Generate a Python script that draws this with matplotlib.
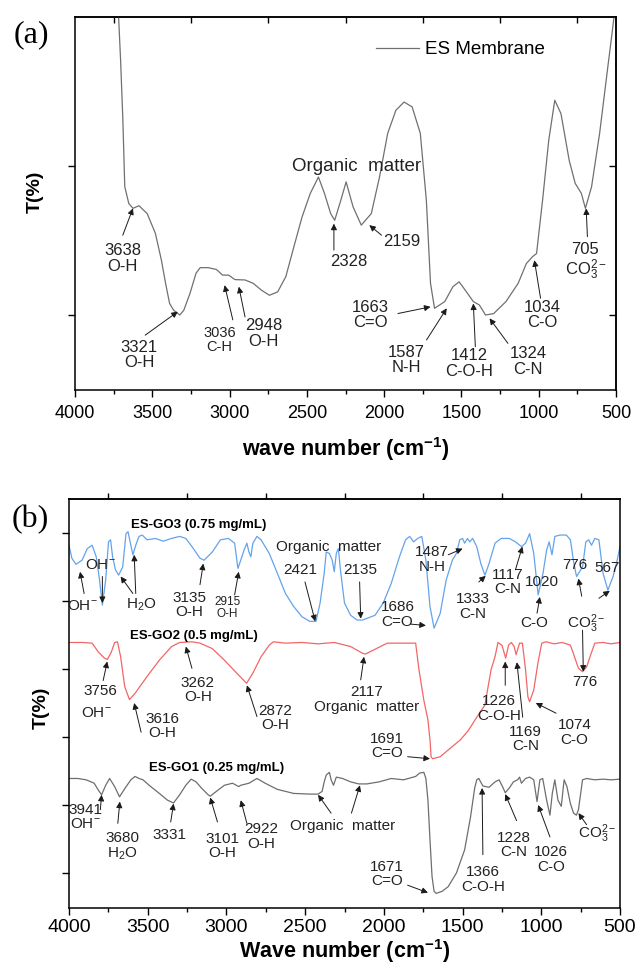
import matplotlib
matplotlib.use("Agg")
import matplotlib.pyplot as plt
from matplotlib.ticker import MultipleLocator, NullFormatter

plt.rcParams.update({
    "font.family": ["Liberation Sans", "DejaVu Sans"],
    "mathtext.fontset": "custom",
    "mathtext.rm": "Liberation Sans",
    "mathtext.it": "Liberation Sans:italic",
    "mathtext.bf": "Liberation Sans:bold",
    "axes.linewidth": 1.1,
})

# =========================
# DATA (a) ES membrane
# =========================
wn_a = [3718, 3705, 3691, 3678, 3652, 3625, 3586, 3533, 3480, 3441,
        3414, 3388, 3362, 3322, 3296, 3256, 3217, 3190, 3138, 3085,
        3045, 3006, 2966, 2900, 2847, 2795, 2742, 2689, 2636, 2584,
        2531, 2478, 2425, 2386, 2346, 2320, 2280, 2246, 2201, 2148,
        2083, 2030, 1977, 1924, 1871, 1819, 1766, 1727, 1700, 1674,
        1608, 1555, 1515, 1476, 1423, 1384, 1344, 1291, 1212, 1133,
        1080, 1041, 1014, 975, 935, 896, 856, 803, 764, 724,
        698, 658, 606, 553, 526, 513]
t_a = [100, 88.4, 73.2, 54.5, 50, 48.7, 49.4, 47.3, 42, 34.8,
       28.6, 23.2, 21.4, 20.1, 21.4, 25.9, 31.3, 32.8, 32.8, 32.3,
       30.8, 30.8, 29.6, 29.5, 28.6, 26.8, 25.4, 26.3, 30.4, 38.4,
       46.4, 52.7, 57.1, 52.7, 47.3, 45.5, 50.9, 55.8, 49.1, 44.2,
       47.3, 57.1, 68.8, 75, 77.2, 75.9, 68.8, 50.9, 28.6, 21.9,
       23.7, 27.7, 29, 26.8, 23.7, 22.8, 20.1, 20.5, 23.7, 28.6,
       33.9, 35.7, 36.6, 50.9, 67, 77.7, 74.1, 61.6, 55.4, 52.7,
       48.7, 54.5, 68.8, 86.6, 95.5, 100]

# label text, x, y, fontsize
labels_a = [
    ("3638\nO-H", 3691, 35.3, 12), ("3321\nO-H", 3586, 9.4, 12),
    ("3036\nC-H", 3064, 13.4, 10.5), ("2948\nO-H", 2781, 15.2, 12),
    ("Organic  matter", 2180, 59.8, 13.5), ("2328", 2228, 34.4, 12),
    ("2159", 1885, 39.7, 12), ("1663\nC=O", 2088, 20.1, 12),
    ("1587\nN-H", 1858, 8, 12), ("1412\nC-O-H", 1449, 7.1, 12),
    ("1324\nC-N", 1067, 7.6, 12), ("1034\nC-O", 975, 20.1, 12),
    ("705\nCO$_3^{2-}$", 698, 34.4, 12),
]
# arrow tail (x, y) -> tip (x, y)
arrows_a = [
    (3691, 41.5, 3625, 48.7), (3546, 14.7, 3335, 21.0), (2979, 18.8, 3032, 28.1),
    (2900, 19.6, 2940, 27.7), (2325, 37.5, 2325, 44.6), (2017, 41.5, 2096, 44.2),
    (1911, 20.5, 1700, 22.3), (1726, 13.4, 1595, 21.9), (1410, 11.6, 1423, 23.2),
    (1199, 12.5, 1318, 19.2), (988, 24.6, 1028, 34.8), (685, 41.1, 693, 48.7),
]

# =========================
# DATA (b) ES-GO membranes
# =========================
wn_go3 = [4000, 3982, 3956, 3917, 3884, 3853, 3827, 3806, 3788, 3767,
          3749, 3736, 3723, 3705, 3685, 3659, 3638, 3625, 3612, 3594,
          3576, 3555, 3535, 3504, 3452, 3400, 3349, 3297, 3258, 3219,
          3168, 3142, 3090, 3038, 2987, 2948, 2927, 2909, 2888, 2870,
          2857, 2845, 2832, 2806, 2780, 2728, 2677, 2625, 2573, 2521,
          2470, 2431, 2405, 2379, 2366, 2346, 2328, 2315, 2302, 2289,
          2276, 2250, 2211, 2170, 2135, 2056, 2004, 1953, 1901, 1862,
          1836, 1811, 1785, 1759, 1733, 1707, 1681, 1642, 1604, 1565,
          1539, 1518, 1500, 1487, 1469, 1454, 1436, 1410, 1384, 1358,
          1332, 1294, 1255, 1203, 1164, 1126, 1100, 1074, 1048, 1030,
          1020, 989, 966, 950, 932, 914, 880, 841, 815, 795,
          776, 738, 717, 699, 681, 660, 634, 608, 577, 544,
          518, 500]
t_go3 = [5.82, 5.63, 5.54, 5.60, 5.77, 5.82, 5.65, 5.31, 4.94, 5.31,
         5.87, 5.90, 5.65, 5.46, 5.38, 5.50, 5.99, 6.02, 5.87, 5.68,
         5.82, 5.95, 5.97, 5.90, 5.92, 5.88, 5.92, 5.95, 5.92, 5.80,
         5.63, 5.60, 5.72, 5.90, 5.92, 5.85, 5.48, 5.60, 5.75, 5.85,
         5.72, 5.65, 5.85, 5.95, 5.90, 5.70, 5.41, 5.11, 4.92, 4.77,
         4.70, 4.70, 4.97, 5.41, 5.72, 5.70, 5.60, 5.43, 5.70, 5.77,
         5.46, 4.97, 4.79, 4.72, 4.72, 4.79, 4.97, 5.26, 5.65, 5.90,
         5.95, 5.87, 5.92, 5.95, 5.60, 4.92, 4.60, 4.82, 5.31, 5.60,
         5.70, 5.90, 5.92, 5.85, 5.92, 5.87, 5.92, 5.80, 5.55, 5.38,
         5.55, 5.85, 5.92, 5.92, 5.87, 5.80, 5.85, 5.99, 5.70, 5.31,
         5.09, 5.41, 5.75, 5.87, 5.68, 5.95, 5.97, 5.97, 5.90, 5.58,
         5.36, 5.50, 5.87, 5.90, 5.82, 5.92, 5.90, 5.41, 5.16, 5.36,
         5.60, 5.80]

wn_go2 = [4000, 3917, 3853, 3814, 3775, 3756, 3731, 3710, 3692, 3672,
          3646, 3616, 3581, 3504, 3426, 3349, 3297, 3219, 3168, 3090,
          3013, 2935, 2872, 2832, 2780, 2728, 2702, 2625, 2521, 2418,
          2315, 2211, 2134, 2117, 2056, 1979, 1849, 1798,
          1777, 1746, 1720, 1707, 1700, 1691, 1642, 1591, 1513, 1462,
          1410, 1358, 1319, 1294,
          1275, 1250, 1226, 1208, 1190, 1172, 1160, 1138, 1120, 1100,
          1085, 1074, 1048, 1022, 997, 970, 919, 867, 815, 789,
          764, 738, 712, 686, 660, 608, 557, 500]
t_go2 = [4.39, 4.39, 4.38, 4.25, 4.16, 4.14, 4.25, 4.39, 4.40, 4.18,
         3.74, 3.55, 3.64, 3.89, 4.13, 4.33, 4.39, 4.40, 4.38, 4.30,
         4.13, 3.94, 3.79, 3.94, 4.18, 4.35, 4.40, 4.38, 4.39, 4.37,
         4.39, 4.33, 4.23, 4.22, 4.29, 4.38, 4.38, 4.38,
         3.99, 3.54, 3.25, 2.96, 2.71, 2.68, 2.71, 2.81, 2.96, 3.10,
         3.29, 3.47, 3.99, 4.18,
         4.39, 4.35, 4.16, 4.35, 4.39, 4.33, 4.21, 4.38, 4.38, 3.99,
         3.59, 3.52, 3.69, 4.08, 4.38, 4.40, 4.37, 4.39, 4.35, 4.18,
         4.01, 3.96, 4.03, 4.21, 4.38, 4.39, 4.37, 4.39]

wn_go1 = [4000, 3943, 3891, 3840, 3814, 3793, 3767, 3742, 3710, 3679,
          3646, 3607, 3581, 3555, 3530, 3491, 3426, 3374, 3336, 3297,
          3258, 3224, 3193, 3155, 3116, 3103, 3064, 3013, 2961, 2922,
          2909, 2857, 2806, 2754, 2677, 2573, 2470, 2418, 2392, 2379,
          2366, 2346, 2335, 2320, 2302, 2263, 2211, 2160, 2108, 2030,
          1953, 1875, 1798, 1772, 1746, 1733, 1720, 1707, 1694, 1681,
          1668, 1630, 1591, 1539, 1487, 1449, 1423, 1410, 1397, 1371,
          1332, 1294, 1268, 1242, 1229, 1203, 1177, 1151, 1138, 1126,
          1100, 1074, 1048, 1027, 1009, 991, 966, 945, 930, 914,
          894, 873, 855, 837, 815, 795, 777, 764, 738, 712,
          660, 608, 557, 500]
t_go1 = [2.39, 2.39, 2.37, 2.32, 2.22, 2.15, 2.29, 2.39, 2.27, 2.12,
         2.24, 2.37, 2.42, 2.39, 2.37, 2.29, 2.17, 2.07, 2.03, 2.15,
         2.29, 2.38, 2.34, 2.24, 2.15, 2.13, 2.20, 2.29, 2.32, 2.27,
         2.29, 2.32, 2.39, 2.32, 2.23, 2.17, 2.16, 2.16, 2.20, 2.34,
         2.44, 2.48, 2.37, 2.29, 2.41, 2.39, 2.34, 2.31, 2.31, 2.34,
         2.39, 2.37, 2.42, 2.47, 2.48, 2.39, 2.07, 1.49, 0.95, 0.73,
         0.70, 0.73, 0.80, 1.00, 1.34, 1.83, 2.25, 2.37, 2.39, 2.28,
         2.26, 2.34, 2.37, 2.25, 2.18, 2.25, 2.34, 2.37, 2.41, 2.32,
         2.39, 2.41, 2.37, 2.05, 2.37, 2.39, 2.07, 1.85, 2.17, 2.37,
         2.07, 1.98, 2.37, 2.27, 2.02, 1.88, 1.85, 1.93, 2.37, 2.39,
         2.37, 2.38, 2.37, 2.38]

series_b = [
    ("ES-GO3 (0.75 mg/mL)", wn_go3, t_go3, "#64a3ec", 3607, 6.12),
    ("ES-GO2 (0.5 mg/mL)", wn_go2, t_go2, "#f26666", 3612, 4.49),
    ("ES-GO1 (0.25 mg/mL)", wn_go1, t_go1, "#6e6e6e", 3491, 2.54),
]

labels_b = [
    # ES-GO3
    ("OH$^{-}$", 3917, 4.92, 11), ("OH$^{-}$", 3801, 5.53, 11),
    ("H$_2$O", 3542, 4.94, 11), ("3135\nO-H", 3237, 4.94, 11),
    ("2915\nO-H", 2994, 4.90, 8.5), ("Organic  matter", 2348, 5.80, 11),
    ("2421", 2534, 5.455, 11), ("2135", 2147, 5.455, 11),
    ("1686\nC=O", 1914, 4.80, 11), ("1487\nN-H", 1694, 5.61, 11),
    ("1333\nC-N", 1436, 4.92, 11), ("1117\nC-N", 1216, 5.28, 11),
    ("1020", 996, 5.28, 11), ("C-O", 1048, 4.67, 11),
    ("776", 789, 5.53, 11), ("567", 583, 5.48, 11),
    ("CO$_3^{2-}$", 712, 4.67, 11),
    # ES-GO2
    ("3756", 3801, 3.67, 11), ("OH$^{-}$", 3827, 3.35, 11),
    ("3616\nO-H", 3408, 3.16, 11), ("3262\nO-H", 3181, 3.69, 11),
    ("2872\nO-H", 2689, 3.28, 11), ("2117\nOrganic  matter", 2108, 3.55, 11),
    ("1691\nC=O", 1979, 2.87, 11), ("1226\nC-O-H", 1268, 3.42, 11),
    ("1169\nC-N", 1100, 2.97, 11), ("1074\nC-O", 789, 3.07, 11),
    ("776", 725, 3.81, 11),
    # ES-GO1
    ("3941\nOH$^{-}$", 3895, 1.82, 11), ("3680\nH$_2$O", 3659, 1.39, 11),
    ("3331", 3362, 1.56, 11), ("3101\nO-H", 3025, 1.40, 11),
    ("2922\nO-H", 2780, 1.54, 11), ("Organic  matter", 2263, 1.69, 11),
    ("1671\nC=O", 1979, 0.985, 11), ("1366\nC-O-H", 1371, 0.906, 11),
    ("1228\nC-N", 1172, 1.41, 11), ("1026\nC-O", 939, 1.20, 11),
    ("CO$_3^{2-}$", 647, 1.58, 11),
]

arrows_b = [
    # ES-GO3
    (3904, 5.11, 3930, 5.43), (3788, 5.36, 3788, 4.97),
    (3594, 5.11, 3672, 5.36), (3576, 5.11, 3586, 5.68),
    (3168, 5.24, 3147, 5.55), (2948, 5.09, 2922, 5.43),
    (2501, 5.28, 2436, 4.70), (2154, 5.28, 2147, 4.74),
    (1830, 4.66, 1733, 4.64), (1591, 5.68, 1500, 5.77),
    (1397, 5.28, 1353, 5.37), (1164, 5.46, 1120, 5.80),
    (1027, 4.82, 1009, 5.06), (743, 5.07, 764, 5.33),
    (634, 5.04, 565, 5.15), (738, 4.57, 733, 3.96),
    # ES-GO2
    (3783, 3.83, 3757, 4.11), (3542, 3.07, 3586, 3.50),
    (3219, 4.01, 3258, 4.33), (2806, 3.30, 2870, 3.76),
    (2147, 3.84, 2126, 4.18), (1849, 2.71, 1707, 2.68),
    (1229, 3.76, 1229, 4.11), (1118, 3.29, 1155, 4.10),
    (906, 3.35, 1035, 3.50),
    # ES-GO1
    (3801, 1.93, 3793, 2.15), (3690, 1.73, 3677, 2.05),
    (3354, 1.75, 3336, 2.02), (3057, 1.75, 3103, 2.11),
    (2870, 1.73, 2909, 2.07), (2335, 1.88, 2418, 2.15),
    (2206, 1.88, 2152, 2.29), (1849, 0.82, 1720, 0.71),
    (1371, 1.27, 1376, 2.25), (1157, 1.77, 1229, 2.16),
    (945, 1.53, 1020, 2.00), (712, 1.71, 764, 1.88),
]

ARROW = dict(arrowstyle="-|>", color="#1a1a1a", lw=0.7, mutation_scale=9,
             shrinkA=0, shrinkB=0)
TOP_TICKS = list(range(3750, 500, -500))

W, H = 641, 969
fig = plt.figure(figsize=(W / 100, H / 100), dpi=100)

# =========================
# PANEL (a)
# =========================
ax1 = fig.add_axes([75 / W, 1 - 390 / H, 541 / W, 373 / H])
ax1.plot(wn_a, t_a, color="#707070", lw=0.9, label="ES Membrane")
ax1.set_xlim(4000, 500)
ax1.set_ylim(0, 100)
ax1.xaxis.set_major_locator(MultipleLocator(500))
ax1.xaxis.set_minor_locator(MultipleLocator(250))
ax1.set_yticks([20, 60])
ax1.yaxis.set_major_formatter(NullFormatter())
ax1.tick_params(axis="x", which="major", direction="out", length=5, width=1, labelsize=13, pad=6)
ax1.tick_params(axis="x", which="minor", direction="out", length=3, width=1)
ax1.tick_params(axis="y", direction="out", length=5, width=1)
top1 = ax1.secondary_xaxis("top")
top1.set_xticks(TOP_TICKS)
top1.tick_params(direction="in", length=4, width=1, labeltop=False)
right1 = ax1.secondary_yaxis("right")
right1.set_yticks([20, 60])
right1.tick_params(direction="in", length=5, width=1, labelright=False)
ax1.set_xlabel("wave number (cm$^{\\mathbf{-1}}$)", fontsize=15.5, fontweight="bold")
ax1.xaxis.set_label_coords(0.5, -0.122)
ax1.set_ylabel("T(%)", fontsize=14, fontweight="bold")
ax1.yaxis.set_label_coords(-0.058, 0.53)
ax1.legend(loc="center left", bbox_to_anchor=(0.556, 0.912), frameon=False,
           fontsize=13.5, handlelength=2.3, handletextpad=0.35,
           borderpad=0, borderaxespad=0)

for txt, x, y, fs in labels_a:
    ax1.text(x, y, txt, fontsize=fs, ha="center", va="center", linespacing=1.05, color="#222222")
for x0, y0, x1, y1 in arrows_a:
    ax1.annotate("", xy=(x1, y1), xytext=(x0, y0), arrowprops=ARROW)

fig.text(31 / W, 1 - 35 / H, "(a)", fontsize=23, family="Liberation Serif", ha="center", va="center")

# =========================
# PANEL (b)
# =========================
ax2 = fig.add_axes([69 / W, 1 - 908 / H, 551 / W, 409 / H])
for name, wn, t, col, lx, ly in series_b:
    ax2.plot(wn, t, color=col, lw=0.9)
    ax2.text(lx, ly, name, fontsize=9.5, fontweight="bold", ha="left", va="center")
ax2.set_xlim(4000, 500)
ax2.set_ylim(0.485, 6.5)
ax2.xaxis.set_major_locator(MultipleLocator(500))
ax2.xaxis.set_minor_locator(MultipleLocator(250))
ax2.set_yticks([1, 2, 3, 4, 5, 6])
ax2.yaxis.set_major_formatter(NullFormatter())
ax2.tick_params(axis="x", which="major", direction="out", length=5, width=1, labelsize=14, pad=3)
ax2.tick_params(axis="x", which="minor", direction="out", length=3, width=1)
ax2.tick_params(axis="y", direction="out", length=5, width=1)
top2 = ax2.secondary_xaxis("top")
top2.set_xticks(TOP_TICKS)
top2.tick_params(direction="out", length=4, width=1, labeltop=False)
ax2.set_xlabel("Wave number (cm$^{\\mathbf{-1}}$)", fontsize=15.5, fontweight="bold")
ax2.xaxis.set_label_coords(0.5, -0.072)
ax2.set_ylabel("T(%)", fontsize=14, fontweight="bold")
ax2.yaxis.set_label_coords(-0.035, 0.49)

for txt, x, y, fs in labels_b:
    ax2.text(x, y, txt, fontsize=fs, ha="center", va="center", linespacing=1.05, color="#222222")
for x0, y0, x1, y1 in arrows_b:
    ax2.annotate("", xy=(x1, y1), xytext=(x0, y0), arrowprops=ARROW)

fig.text(30 / W, 1 - 520 / H, "(b)", fontsize=23, family="Liberation Serif", ha="center", va="center")

fig.savefig("out.png", dpi=100)
plt.close(fig)
print("saved out.png")
